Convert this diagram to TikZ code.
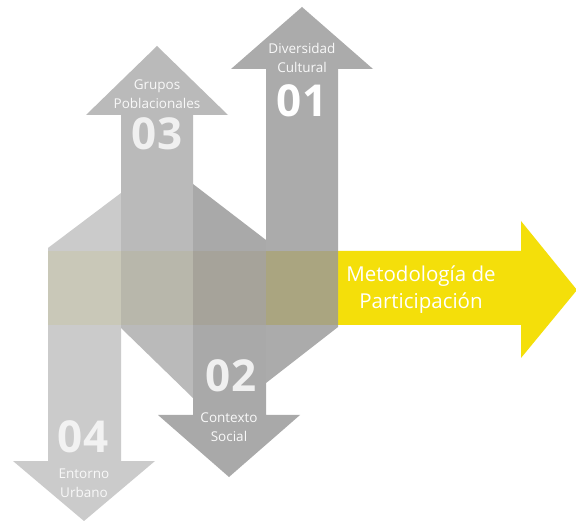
\documentclass[tikz,border=0pt]{standalone}
\usepackage{fontspec}
\setmainfont{Open Sans}
\usepackage{tikz}
\definecolor{metyellow}{HTML}{F4DF0A}
\definecolor{grayA}{HTML}{CBCBCB}
\definecolor{grayB}{HTML}{BABABA}
\definecolor{grayC}{HTML}{A9A9A9}
\definecolor{grayD}{HTML}{ABABAB}
\definecolor{bandA}{HTML}{C9C8B8}
\definecolor{bandB}{HTML}{B8B7AB}
\definecolor{bandC}{HTML}{A6A39A}
\definecolor{bandD}{HTML}{AAA580}
\tikzset{
  tag/.style={text=white!95!gray, align=center, font=\fontsize{13.5}{19}\selectfont},
  num/.style={font=\bfseries\fontsize{44}{44}\selectfont},
  metlabel/.style={text=white, align=center, font=\fontsize{20.5}{27}\selectfont},
}
\begin{document}
\begin{tikzpicture}[x=1pt,y=-1pt]
                \useasboundingbox [fill=white] (0,0) rectangle (576,521);
                \fill [metyellow] (338,251)--(521,251)--(521,221)--(577,290)--(521,358)--(521,325)--(338,325)--cycle;
                \fill [grayA] (48,248)--(121,193)--(121,461)--(155,461)--(84,521)--(13,461)--(48,461)--cycle;
                \fill [grayB] (121,328)--(121,115)--(86,115)--(157,46)--(228,115)--(193,115)--(193,398)--cycle;
                \fill [grayC] (193,184)--(266,240)--(266,415)--(300,415)--(229,477)--(158,415)--(193,415)--cycle;
                \fill [grayD] (266,383)--(266,69)--(231,69)--(302,7)--(373,69)--(338,69)--(338,327)--cycle;
                \fill [bandA] (48,251) rectangle (121,325);
                \fill [bandB] (121,251) rectangle (193,325);
                \fill [bandC] (193,251) rectangle (266,325);
                \fill [bandD] (266,251) rectangle (338,325);
                \node (lbl01) [tag] at (302,58) {Diversidad\\Cultural};
                \node (num01) [num, text=white] at (302,101) {01};
                \node (lbl03) [tag] at (157,94) {Grupos\\Poblacionales};
                \node (num03) [num, text=white!88!gray] at (157,134) {03};
                \node (num02) [num, text=white!88!gray] at (231,376) {02};
                \node (lbl02) [tag] at (229,427) {Contexto\\Social};
                \node (num04) [num, text=white!90!gray] at (83,437) {04};
                \node (lbl04) [tag] at (84,483) {Entorno\\Urbano};
                \node (met) [metlabel] at (421,290) {Metodología de\\Participación};
            \end{tikzpicture}
\end{document}
